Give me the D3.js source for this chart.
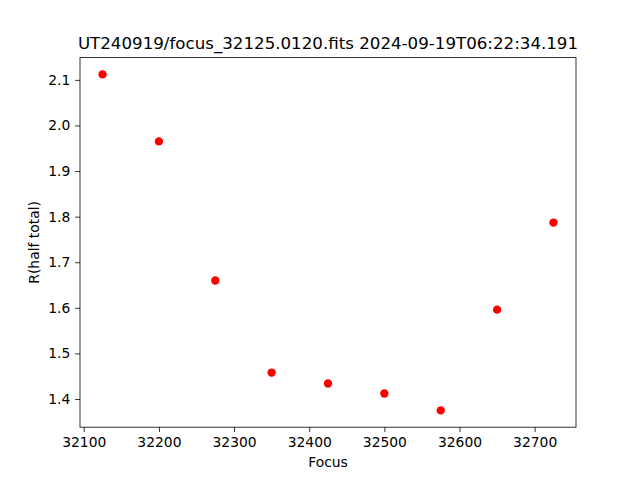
<!DOCTYPE html>
<html><head><meta charset="utf-8">
<script src="https://cdn.jsdelivr.net/npm/d3@7"></script>
<style>body{margin:0;background:#fff}svg{display:block}text{font-family:"DejaVu Sans",sans-serif}</style>
</head><body>
<script>
const focus = [32125, 32200, 32275, 32350, 32425, 32500, 32575, 32650, 32725];
const rHalf = [2.112, 1.965, 1.660, 1.458, 1.434, 1.412, 1.375, 1.596, 1.787];
const xTicks = [32100, 32200, 32300, 32400, 32500, 32600, 32700];
const yTicks = [1.4, 1.5, 1.6, 1.7, 1.8, 1.9, 2.0, 2.1];
const title = "UT240919/focus_32125.0120.fits 2024-09-19T06:22:34.191";

const W = 640, H = 480;
const L = 80, R = 576, T = 57.6, B = 427.2;
const svg = d3.select("body").append("svg").attr("width", W).attr("height", H);
const xmin = d3.min(focus), xmax = d3.max(focus), xm = (xmax - xmin) * 0.05;
const ymin = d3.min(rHalf), ymax = d3.max(rHalf), ym = (ymax - ymin) * 0.05;
const x = d3.scaleLinear().domain([xmin - xm, xmax + xm]).range([L, R]);
const y = d3.scaleLinear().domain([ymin - ym, ymax + ym]).range([B, T]);

const fs = 13.89;
const xa = svg.append("g").attr("transform", `translate(0,${B})`)
  .call(d3.axisBottom(x).tickValues(xTicks).tickFormat(d3.format("d")).tickSize(4.86).tickPadding(4.86));
const ya = svg.append("g").attr("transform", `translate(${L},0)`)
  .call(d3.axisLeft(y).tickValues(yTicks).tickFormat(d3.format(".1f")).tickSize(4.86).tickPadding(4.86));
[xa, ya].forEach(a => {
  a.select(".domain").remove();
  a.selectAll("line").attr("stroke", "#000").attr("stroke-width", 0.8);
  a.selectAll("text").attr("font-size", fs).attr("fill", "#000").attr("font-family", "DejaVu Sans");
});

svg.append("g").selectAll("circle").data(focus).join("circle")
  .attr("cx", d => x(d)).attr("cy", (d, i) => y(rHalf[i])).attr("r", 4.17).attr("fill", "#ff0000");

svg.append("rect").attr("x", L).attr("y", T).attr("width", R - L).attr("height", B - T)
  .attr("fill", "none").attr("stroke", "#000").attr("stroke-width", 0.8);

svg.append("text").attr("x", (L + R) / 2).attr("y", T - 8.33).attr("text-anchor", "middle")
  .attr("font-size", 16.67).text(title);
svg.append("text").attr("x", (L + R) / 2).attr("y", 467).attr("text-anchor", "middle")
  .attr("font-size", fs).text("Focus");
svg.append("text").attr("transform", `translate(39,${(T + B) / 2}) rotate(-90)`).attr("text-anchor", "middle")
  .attr("font-size", fs).text("R(half total)");
</script>
</body></html>
